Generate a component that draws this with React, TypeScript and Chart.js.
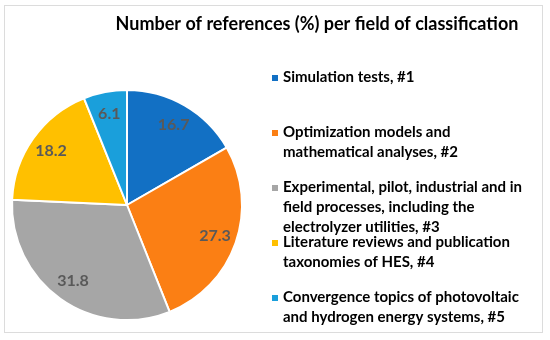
import React, { useEffect, useRef } from "react";
import { Chart, registerables } from "chart.js";

Chart.register(...registerables);

const titleText = "Number of references (%) per field of classification";
const categories: string[][] = [
  ["Simulation tests, #1"],
  ["Optimization models and", "mathematical analyses, #2"],
  ["Experimental, pilot, industrial and in", "field processes, including the", "electrolyzer utilities, #3"],
  ["Literature reviews and publication", "taxonomies of HES, #4"],
  ["Convergence topics of photovoltaic", "and hydrogen energy systems, #5"],
];
const values = [16.7, 27.3, 31.8, 18.2, 6.1];
const colors = ["#1270C4", "#FB7F14", "#A6A6A6", "#FFC000", "#1A9FDB"];

const FONT = "Lato, 'Open Sans', sans-serif";

const decorPlugin = {
  id: "decor",
  beforeDraw(chart: any) {
    const ctx = chart.ctx;
    ctx.save();
    ctx.fillStyle = "#ffffff";
    ctx.fillRect(0, 0, chart.width, chart.height);
    ctx.strokeStyle = "#dcdcdc";
    ctx.lineWidth = 1;
    ctx.strokeRect(4.5, 5.5, 538, 327);
    ctx.restore();
  },
  afterDraw(chart: any) {
    const ctx = chart.ctx;
    ctx.save();
    // title
    ctx.fillStyle = "#000000";
    ctx.font = `bold 18px ${FONT}`;
    ctx.textAlign = "center";
    ctx.textBaseline = "middle";
    ctx.fillText(titleText, 317, 24);

    // data labels
    const meta = chart.getDatasetMeta(0);
    ctx.font = `bold 16px ${FONT}`;
    ctx.fillStyle = "#595959";
    meta.data.forEach((arc: any, i: number) => {
      const { x, y, startAngle, endAngle, outerRadius } = arc.getProps(
        ["x", "y", "startAngle", "endAngle", "outerRadius"],
        true
      );
      const mid = (startAngle + endAngle) / 2;
      const r = outerRadius * 0.81;
      ctx.fillText(String(values[i]), x + Math.cos(mid) * r, y + Math.sin(mid) * r);
    });

    // legend
    ctx.textAlign = "left";
    ctx.font = `bold 15px ${FONT}`;
    categories.forEach((lines, i) => {
      const y0 = 77 + i * 55;
      ctx.fillStyle = colors[i];
      ctx.fillRect(272, y0 - 2, 6, 6);
      ctx.fillStyle = "#000000";
      lines.forEach((ln, j) => {
        ctx.fillText(ln, 283, y0 + j * 20);
      });
    });
    ctx.restore();
  },
};

export default function App() {
  const ref = useRef<HTMLCanvasElement | null>(null);
  useEffect(() => {
    if (!ref.current) return;
    const chart = new Chart(ref.current, {
      type: "pie",
      data: {
        labels: categories.map((c) => c.join(" ")),
        datasets: [
          {
            data: values,
            backgroundColor: colors,
            borderColor: "#ffffff",
            borderWidth: 2,
          },
        ],
      },
      options: {
        responsive: false,
        animation: false,
        layout: { padding: { left: 11, right: 307, top: 89, bottom: 19 } },
        plugins: {
          legend: { display: false },
          title: { display: false },
          tooltip: { enabled: false },
        },
      },
      plugins: [decorPlugin],
    });
    return () => chart.destroy();
  }, []);
  return (
    <div style={{ position: "fixed", left: 0, top: 0, width: 550, height: 340 }}>
      <canvas ref={ref} width={550} height={340} />
    </div>
  );
}
